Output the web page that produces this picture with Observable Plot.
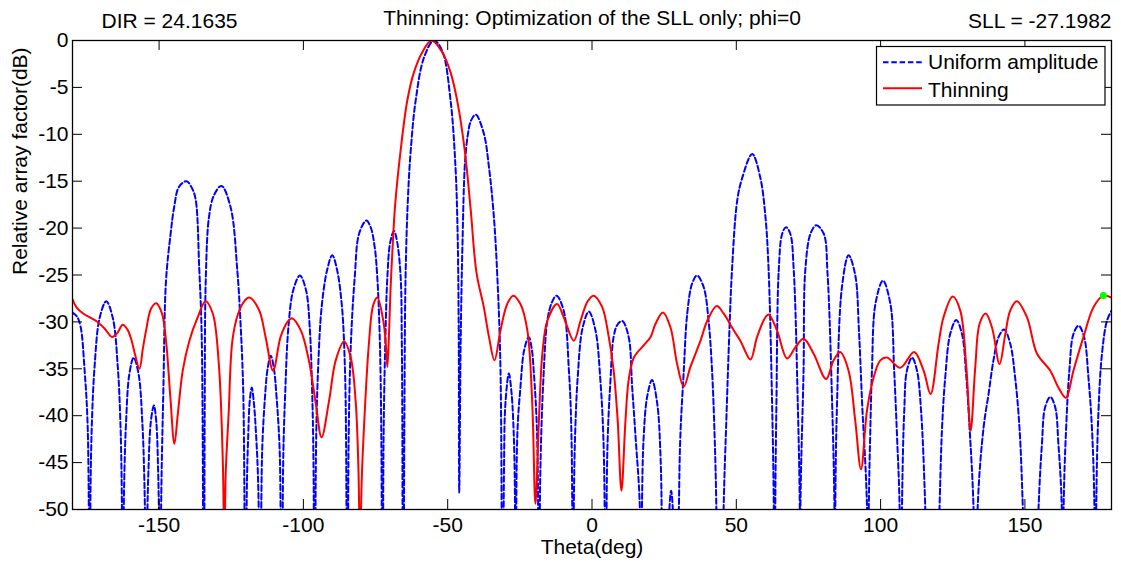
<!DOCTYPE html>
<html><head><meta charset="utf-8">
<script src="https://cdn.jsdelivr.net/npm/d3@7"></script>
<script src="https://cdn.jsdelivr.net/npm/@observablehq/plot@0.6"></script>
<style>
html,body{margin:0;padding:0;background:#fff;}
#chart{position:relative;width:1121px;height:563px;}
</style></head><body><div id="chart"></div>
<script>
// ---------- data ----------
const titleText = "Thinning: Optimization of the SLL only; phi=0";
const dirText = "DIR = 24.1635";
const sllText = "SLL = -27.1982";
const xLabel = "Theta(deg)";
const yLabel = "Relative array factor(dB)";
const seriesNames = ["Uniform amplitude", "Thinning"];
const xTicks = [-150, -100, -50, 0, 50, 100, 150];
const yTicks = [0, -5, -10, -15, -20, -25, -30, -35, -40, -45, -50];

// [theta (deg), relative array factor (dB)] - uniform amplitude
const uniformAF = [
[-180,-29.0],[-178.5,-29.4],[-177.2,-30.5],[-175.8,-35.2],[-174.7,-41.6],[-174.1,-80],
[-173.75,-47.8],[-173.23,-40.3],[-172.36,-34.8],[-170.62,-29.6],[-168.3,-27.8],[-166.02,-29.6],[-164.31,-34.8],[-163.45,-40.3],[-162.94,-47.8],[-162.6,-80],
[-162.37,-53.8],[-162.03,-46.3],[-161.46,-40.8],[-160.32,-35.6],[-158.8,-33.8],[-157.08,-35.6],[-155.79,-40.8],[-155.15,-46.3],[-154.76,-53.8],[-154.5,-80],
[-154.1,-51.4],[-153.69,-45.9],[-152.88,-40.7],[-151.8,-38.9],[-150.96,-40.7],[-150.33,-45.9],[-150.02,-51.4],[-149.7,-80],
[-149.3,-50],[-148.5,-37],[-147.6,-25.6],[-146.0,-20.6],[-144.8,-17.8],[-143.1,-15.6],[-140.5,-15.0],[-138.5,-15.8],[-137.3,-17.0],[-136.1,-24.2],[-135.2,-32],[-134.5,-80],
[-134.2,-40],[-133.8,-25.2],[-132.7,-18.8],[-131.0,-16.5],[-128.4,-15.5],[-125.2,-17.8],[-122.9,-24.5],[-121.8,-30],[-120.8,-38],[-120.0,-80],
[-119.6,-48],[-119.1,-42],[-118.6,-38.5],[-117.9,-37],[-117.2,-38.5],[-116.4,-42],[-115.6,-48],[-115,-80],
[-114.6,-50],[-114.2,-43],[-113.3,-38],[-112.4,-35],[-111.3,-33.6],[-110.2,-35],[-109.3,-38],[-108.3,-43],[-107.9,-50],[-107.5,-80],
[-107.0,-45],[-106.3,-37.6],[-105.2,-30.6],[-103.5,-26.6],[-101.2,-25.05],[-99.1,-26.6],[-97.8,-30.6],[-97.0,-37],[-96.5,-45],[-96.1,-80],
[-95.6,-43],[-94.9,-35],[-93.7,-28.5],[-91.8,-24.5],[-90.0,-22.9],[-88.3,-24.5],[-86.6,-28.5],[-85.6,-35],[-85.2,-43],[-84.8,-80],
[-84.3,-42],[-83.5,-32],[-82.2,-25.2],[-80.7,-20.6],[-78.2,-19.2],[-76.7,-19.9],[-75.3,-22],[-74.4,-25.2],[-73.6,-31],[-73.0,-42],[-72.6,-80],
[-72.2,-42],[-71.6,-32],[-70.9,-25.2],[-69.9,-21.5],[-68.6,-20.3],[-67.5,-21.5],[-66.3,-25.2],[-65.9,-32],[-65.7,-42],[-65.5,-80],
[-65.0,-40],[-64.6,-25.2],[-63.8,-17],[-62.8,-11.7],[-61.1,-6.4],[-58.2,-1.8],[-54.8,0],[-51.9,-1.1],[-49.0,-6.4],[-47.3,-13.5],[-46.6,-20],[-46.2,-30],[-46.0,-48.2],
[-45.5,-32],[-44.9,-22],[-44.0,-13],[-43.0,-10],[-42.0,-8.6],[-40.3,-7.9],[-37.5,-9.9],[-35.7,-13.5],[-34.0,-18.8],[-32.8,-25.2],[-31.7,-35.2],[-31.0,-80],
[-30.5,-46],[-30.0,-38.7],[-28.8,-35.5],[-27.9,-37.5],[-27.3,-40.5],[-26.8,-46],[-26.3,-80],
[-25.9,-42.3],[-24.8,-37],[-23.5,-33],[-21.9,-31.6],[-20.9,-32.8],[-20.2,-35.2],[-19.0,-42.3],[-18.4,-80],
[-17.9,-46],[-16.7,-35.2],[-15.5,-29.9],[-14.0,-28],[-12.3,-27.2],[-9.8,-28.8],[-8.0,-35.2],[-7.1,-42.3],[-6.6,-80],
[-6.27,-48.9],[-5.78,-41.4],[-4.95,-35.9],[-3.3,-30.7],[-1.1,-28.9],[1.2,-30.9],[2.9,-36.2],[4.1,-44],[4.8,-80],
[5.3,-44],[6.4,-36.2],[7.5,-31.6],[8.8,-30.3],[10.5,-29.9],[12.7,-31.6],[13.9,-36.9],[15.1,-42.3],[16.6,-50],[16.8,-80],
[17.3,-50],[17.9,-42.3],[19.1,-38],[20.8,-36.2],[22.6,-38.7],[23.7,-44],[24.2,-52],[24.4,-80],
[26.5,-52],[27.4,-48],[28.3,-52],[29.0,-80],
[30.1,-50],[30.6,-42.3],[31.8,-35.2],[33.0,-29.1],[34.7,-25.9],[36.4,-25.05],[38.7,-26.3],[40.4,-29.9],[41.6,-35.2],[42.5,-42.3],[43.1,-50],[44.3,-80],
[45.6,-50],[46.6,-40],[47.6,-31],[48.5,-24.5],[50.3,-17.1],[52.0,-14.7],[55.5,-12.1],[58.3,-14.6],[60.1,-18.8],[61.2,-24.5],[62.4,-38.7],[63.0,-50],[63.25,-80],
[63.5,-50],[63.9,-38.7],[64.7,-24.5],[65.9,-20.6],[67.2,-19.9],[68.7,-20.6],[69.9,-24.5],[71.3,-38.7],[72.0,-50],[72.1,-80],
[72.2,-50],[73.3,-35.2],[73.9,-24.5],[75.7,-20.6],[77.7,-19.7],[80.3,-20.6],[81.6,-24.8],[83.2,-38.7],[84.0,-50],[84.2,-80],
[84.3,-50],[84.9,-38.7],[86.6,-26.3],[88.9,-22.9],[91.2,-25],[92.5,-31],[93.6,-38.7],[95.3,-50],[95.5,-80],
[95.9,-50],[96.4,-42],[97.0,-35.2],[98.2,-28.1],[100.8,-25.6],[103.4,-28.1],[104.7,-35.2],[105.7,-42.3],[106.6,-50],[106.9,-80],
[107.4,-50],[108.2,-39.4],[109.1,-35.2],[110.9,-33.8],[112.6,-35.2],[114.0,-39.4],[115.5,-50],[118.0,-80],
[120.4,-50],[121.3,-41.2],[122.4,-35.9],[124.1,-31.3],[126.2,-29.8],[128.2,-31.3],[129.7,-35.9],[130.8,-41.2],[132.2,-50],[133.0,-80],
[133.6,-50],[135.7,-41.2],[137.4,-37.7],[139.1,-34.1],[140.9,-31.6],[142.8,-30.8],[144.9,-32.3],[146.6,-35.9],[148.1,-41.2],[149.3,-50],[152.0,-80],
[154.7,-50],[155.9,-43],[157.0,-39.1],[158.8,-38.0],[160.5,-39.1],[161.6,-43],[162.8,-50],[163.1,-80],
[163.4,-50],[164.3,-41.2],[165.4,-35.2],[166.8,-31.3],[168.6,-30.4],[170.5,-31.6],[172.0,-35.9],[173.2,-41.2],[174.1,-50],[174.4,-80],
[174.7,-50],[175.5,-39.4],[176.7,-33.4],[178.4,-29.9],[180,-28.8]
];

// [theta (deg), relative array factor (dB)] - thinning
const thinningAF = [
[-180,-27.6],[-178.5,-28.5],[-176.3,-29.1],[-173.5,-29.6],[-171.8,-29.9],[-168.9,-30.7],[-166.3,-31.6],[-164.5,-31.2],[-162.6,-30.3],
[-161.0,-30.8],[-159.7,-31.8],[-158.3,-33.5],[-156.8,-35.0],[-155.6,-32.8],[-154.5,-30.9],[-152.8,-28.6],[-151.0,-28.0],[-149.0,-29.1],
[-147.6,-32.0],[-146.1,-38.0],[-144.7,-43.0],[-143.5,-39.8],[-141.8,-35.2],[-139.5,-32.0],[-136.6,-29.5],[-133.9,-27.8],[-131.4,-29.1],
[-129.3,-34.5],[-127.9,-45.1],[-127.4,-55],[-126.9,-46],[-125.9,-39.8],[-124.6,-32],[-122.6,-29.1],[-120.5,-27.8],[-118.8,-27.4],
[-115.4,-28.7],[-113.1,-31.6],[-110.5,-35.2],[-107.9,-31.6],[-105.5,-30.0],[-104.0,-29.6],[-100.9,-30.9],[-98.1,-34.1],[-95.7,-38.7],
[-93.7,-42.3],[-91.1,-38.4],[-88.8,-34.1],[-85.9,-32.1],[-83.6,-33.8],[-81.9,-38.4],[-80.9,-46],[-80.4,-55],[-79.8,-47],[-79.0,-41.2],
[-77.3,-32.3],[-75.8,-28.2],[-74.4,-27.4],[-72.3,-29.9],[-71.4,-32.5],[-70.9,-34.8],[-70.3,-31],[-69.8,-26.5],[-69.0,-21.5],[-68.2,-17.5],
[-66.3,-11.7],[-64.0,-6.4],[-61.7,-3.4],[-58.8,-1.25],[-55.6,0],[-51.9,-1.25],[-49.0,-3.4],[-46.5,-6.75],[-44.1,-11.7],[-42.1,-17.8],
[-40.0,-24.8],[-37.5,-28.4],[-35.7,-31.6],[-33.8,-34.1],[-31.7,-30.9],[-29.4,-28.1],[-27.3,-27.2],[-24.8,-28.1],[-22.4,-30.9],[-20.7,-38.7],
[-19.6,-49.4],[-18.4,-40.5],[-17.2,-33.4],[-15.5,-29.9],[-12.1,-28.1],[-9.8,-29.5],[-6.3,-32.0],[-4.0,-29.9],[-1.5,-27.8],[0.5,-27.2],
[3.5,-28.4],[5.8,-31.6],[7.5,-35.2],[8.9,-40.5],[10.2,-48.0],[11.6,-40.5],[12.7,-36.2],[14.5,-33.8],[17.9,-32.5],[20.3,-31.6],[22.0,-30.2],
[24.6,-29.0],[27.2,-30.6],[29.5,-34.5],[31.8,-36.9],[34.1,-34.8],[37.6,-32.0],[39.9,-29.9],[43.2,-28.3],[45.6,-29.1],[49.1,-30.9],[51.4,-32.0],
[54.9,-34.0],[57.2,-31.6],[60.1,-29.5],[61.2,-29.2],[64.1,-30.9],[67.6,-33.9],[70.5,-32.7],[73.3,-31.8],[76.8,-33.4],[81.1,-36.1],[83.7,-34.1],
[86.0,-33.2],[88.9,-35.2],[91.2,-40.5],[93.2,-45.7],[95.3,-39.4],[97.6,-35.9],[99.9,-34.1],[102.2,-33.8],[106.8,-34.9],[111.6,-33.2],[114.9,-35.2],
[117.3,-37.7],[120.1,-32.3],[121.8,-29.5],[125.0,-27.3],[127.6,-28.8],[129.7,-34.8],[131.2,-41.6],[132.8,-34.8],[134.3,-30.2],[136.4,-29.1],
[138.6,-30.6],[141.2,-34.5],[143.2,-31.3],[144.9,-28.8],[147.2,-27.8],[150.7,-29.5],[154.2,-33.4],[158.8,-35.2],[161.6,-37.0],[164.2,-38.1],
[166.8,-35.2],[170.3,-31.6],[173.8,-28.4],[177.2,-27.2],[180,-27.4]
];

// highest sidelobe marker
const sllPoint = [[177.2, -27.1982]];

// ---------- layout ----------
const W = 1121, H = 563, mL = 72, mR = 10, mT = 40, mB = 54;
const fw = W - mL - mR, fh = H - mT - mB, tickLen = 10;
const font = "'Liberation Sans', Arial, Helvetica, sans-serif";

const plot = Plot.plot({
  width: W, height: H,
  marginLeft: mL, marginRight: mR, marginTop: mT, marginBottom: mB,
  style: {fontFamily: font, fontSize: "21px", background: "white", color: "black"},
  x: {domain: [-180, 180]},
  y: {domain: [-50, 0]},
  marks: [
    Plot.line(uniformAF, {x: d => d[0], y: d => d[1], stroke: "#0000ff", strokeWidth: 2,
      strokeDasharray: "5.5,2.8", curve: "catmull-rom", clip: true}),
    Plot.line(thinningAF, {x: d => d[0], y: d => d[1], stroke: "#ff0000", strokeWidth: 2,
      curve: "catmull-rom", clip: true}),
    Plot.dot(sllPoint, {x: d => d[0], y: d => d[1], r: 3.5, fill: "#00ff00", stroke: "none"}),
    Plot.tickX(xTicks, {x: d => d, stroke: "black", insetTop: fh - tickLen}),
    Plot.tickX(xTicks, {x: d => d, stroke: "black", insetBottom: fh - tickLen}),
    Plot.tickY(yTicks, {y: d => d, stroke: "black", insetRight: fw - tickLen}),
    Plot.tickY(yTicks, {y: d => d, stroke: "black", insetLeft: fw - tickLen}),
    Plot.frame({stroke: "black", strokeWidth: 1.3}),
    Plot.axisX({ticks: xTicks, tickSize: 0, tickPadding: 8, tickFormat: d => String(d), label: null}),
    Plot.axisY({ticks: yTicks, tickSize: 0, tickPadding: 4, tickFormat: d => String(d), label: null}),
    Plot.text([titleText], {text: d => d, frameAnchor: "top", lineAnchor: "bottom", dy: -16}),
    Plot.text([dirText], {text: d => d, frameAnchor: "top-left", textAnchor: "start", lineAnchor: "bottom", dx: 29, dy: -12.7}),
    Plot.text([sllText], {text: d => d, frameAnchor: "top-right", textAnchor: "end", lineAnchor: "bottom", dy: -12.7}),
    Plot.text([xLabel], {text: d => d, frameAnchor: "bottom", lineAnchor: "bottom", dy: 44.5}),
    Plot.text([yLabel], {text: d => d, frameAnchor: "left", rotate: -90, lineAnchor: "bottom", dx: -45.3})
  ]
});

// ---------- legend (inside the axes, top-right) ----------
const svg = d3.select(plot);
const lg = svg.append("g").attr("font-family", font).attr("font-size", 21).attr("text-anchor", "start");
lg.append("rect").attr("x", 876.5).attr("y", 46.5).attr("width", 228.5).attr("height", 58.5)
  .attr("fill", "white").attr("stroke", "black").attr("stroke-width", 1.2);
lg.append("line").attr("x1", 883).attr("x2", 922).attr("y1", 62.2).attr("y2", 62.2)
  .attr("stroke", "#0000ff").attr("stroke-width", 2).attr("stroke-dasharray", "5.5,2.8");
lg.append("text").attr("x", 928).attr("y", 68.8).attr("fill", "black").attr("text-anchor", "start").text(seriesNames[0]);
lg.append("line").attr("x1", 883).attr("x2", 922).attr("y1", 88.3).attr("y2", 88.3)
  .attr("stroke", "#ff0000").attr("stroke-width", 2);
lg.append("text").attr("x", 928).attr("y", 96.5).attr("fill", "black").attr("text-anchor", "start").text(seriesNames[1]);

document.getElementById("chart").appendChild(plot);
</script></body></html>
